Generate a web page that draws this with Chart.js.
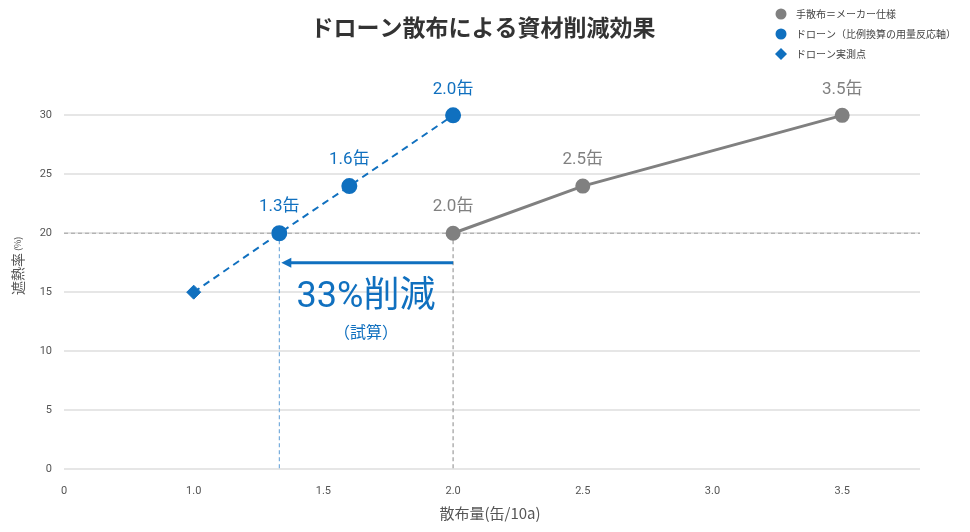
<!DOCTYPE html>
<html>
<head>
<meta charset="utf-8">
<script src="https://cdn.jsdelivr.net/npm/chart.js@4"></script>
<style>
  html, body { margin: 0; padding: 0; background: #fff; }
  #wrap { width: 970px; height: 532px; position: relative; }
</style>
</head>
<body>
<div id="wrap"><canvas id="chart" width="970" height="532"></canvas></div>
<script>
// data
const manualRate = [2.0, 2.5, 3.5];
const manualShade = [20, 24, 30];
const manualLabels = ["2.0缶", "2.5缶", "3.5缶"];

const droneRate = [1.0, 1.33, 1.6, 2.0];
const droneShade = [15, 20, 24, 30];
const droneLabels = ["", "1.3缶", "1.6缶", "2.0缶"];

const measuredRate = [1.0];
const measuredShade = [15];

const xTicks = [0.5, 1.0, 1.5, 2.0, 2.5, 3.0, 3.5];
const yTicks = [0, 5, 10, 15, 20, 25, 30];

const BLUE = "#1070bf";
const GRAY = "#808080";
const FONT = "Roboto, 'Noto Sans CJK JP', sans-serif";
const JP = "'Noto Sans CJK JP', sans-serif";

// draws labels, reference lines, arrow, title and legend
const overlay = {
  id: "overlay",
  beforeDatasetsDraw(chart) {
    const { ctx, chartArea, scales: { x, y } } = chart;
    ctx.save();
    ctx.lineWidth = 1;
    ctx.setLineDash([4, 3]);
    // horizontal 20% line
    ctx.strokeStyle = "#a0a0a0";
    ctx.beginPath();
    ctx.moveTo(chartArea.left, y.getPixelForValue(20));
    ctx.lineTo(chartArea.right, y.getPixelForValue(20));
    ctx.stroke();
    // vertical at 2.0
    ctx.strokeStyle = "#888";
    ctx.beginPath();
    ctx.moveTo(x.getPixelForValue(2.0), y.getPixelForValue(20));
    ctx.lineTo(x.getPixelForValue(2.0), y.getPixelForValue(0));
    ctx.stroke();
    // vertical at 1.33
    ctx.strokeStyle = "#5a9bd5";
    ctx.beginPath();
    ctx.moveTo(x.getPixelForValue(1.33), y.getPixelForValue(20));
    ctx.lineTo(x.getPixelForValue(1.33), y.getPixelForValue(0));
    ctx.stroke();
    ctx.restore();
  },
  afterDraw(chart) {
    const { ctx, scales: { x, y } } = chart;
    ctx.save();
    ctx.textAlign = "center";
    ctx.textBaseline = "middle";
    ctx.font = "17px " + FONT;
    ctx.fillStyle = GRAY;
    manualRate.forEach((r, i) => {
      ctx.fillText(manualLabels[i], x.getPixelForValue(r), y.getPixelForValue(manualShade[i]) - 26);
    });
    ctx.fillStyle = BLUE;
    droneRate.forEach((r, i) => {
      if (droneLabels[i]) ctx.fillText(droneLabels[i], x.getPixelForValue(r), y.getPixelForValue(droneShade[i]) - 26);
    });

    // arrow
    const ay = y.getPixelForValue(17.5);
    const x1 = x.getPixelForValue(2.0), x0 = x.getPixelForValue(1.33) + 2;
    ctx.strokeStyle = BLUE;
    ctx.lineWidth = 3;
    ctx.beginPath();
    ctx.moveTo(x1, ay);
    ctx.lineTo(x0 + 8, ay);
    ctx.stroke();
    ctx.fillStyle = BLUE;
    ctx.beginPath();
    ctx.moveTo(x0, ay);
    ctx.lineTo(x0 + 10, ay - 5);
    ctx.lineTo(x0 + 10, ay + 5);
    ctx.closePath();
    ctx.fill();

    ctx.font = "36px " + FONT;
    ctx.fillText("33%削減", 366, 298);
    ctx.font = "16px " + JP;
    ctx.fillText("（試算）", 366, 332);

    // title
    ctx.fillStyle = "#333";
    ctx.font = "bold 23px " + JP;
    ctx.fillText("ドローン散布による資材削減効果", 483, 27);

    // axis titles
    ctx.fillStyle = "#555";
    ctx.font = "15px " + JP;
    ctx.fillText("散布量(缶/10a)", 490, 513);
    ctx.save();
    ctx.translate(18, 253);
    ctx.rotate(-Math.PI / 2);
    ctx.textAlign = "right";
    ctx.font = "14px " + JP;
    ctx.fillText("遮熱率", 0, 0);
    ctx.textAlign = "left";
    ctx.font = "9px " + JP;
    ctx.fillText("(%)", 2, 0);
    ctx.restore();

    // legend
    ctx.textAlign = "left";
    ctx.font = "10px " + JP;
    ctx.fillStyle = GRAY;
    ctx.beginPath(); ctx.arc(781, 14, 5.5, 0, Math.PI * 2); ctx.fill();
    ctx.fillStyle = BLUE;
    ctx.beginPath(); ctx.arc(781, 34, 5.5, 0, Math.PI * 2); ctx.fill();
    ctx.beginPath();
    ctx.moveTo(781, 48); ctx.lineTo(787, 54); ctx.lineTo(781, 60); ctx.lineTo(775, 54);
    ctx.closePath(); ctx.fill();
    ctx.fillStyle = "#444";
    ctx.fillText("手散布＝メーカー仕様", 796, 14);
    ctx.fillText("ドローン（比例換算の用量反応軸）", 796, 34);
    ctx.fillText("ドローン実測点", 796, 54);
    ctx.restore();
  }
};

new Chart(document.getElementById("chart"), {
  type: "scatter",
  data: {
    datasets: [
      {
        label: "手散布=メーカー仕様",
        data: manualRate.map((r, i) => ({ x: r, y: manualShade[i] })),
        showLine: true,
        borderColor: GRAY,
        backgroundColor: GRAY,
        borderWidth: 3,
        pointRadius: 6,
        pointHoverRadius: 6,
        clip: false
      },
      {
        label: "ドローン(比例換算の用量反応軸)",
        data: droneRate.map((r, i) => ({ x: r, y: droneShade[i] })),
        showLine: true,
        borderColor: BLUE,
        backgroundColor: BLUE,
        borderWidth: 2,
        borderDash: [7, 5],
        pointRadius: droneRate.map((r, i) => (i === 0 ? 0 : 7)),
        pointHoverRadius: 7,
        clip: false
      },
      {
        label: "ドローン実測点",
        data: measuredRate.map((r, i) => ({ x: r, y: measuredShade[i] })),
        pointStyle: "rectRot",
        borderColor: BLUE,
        backgroundColor: BLUE,
        pointRadius: 7,
        clip: false
      }
    ]
  },
  options: {
    responsive: false,
    animation: false,
    layout: { padding: { top: 80, right: 50, left: 0, bottom: 0 } },
    plugins: { legend: { display: false }, tooltip: { enabled: false } },
    scales: {
      x: {
        type: "linear",
        min: 0.5,
        max: 3.8,
        afterBuildTicks: (s) => { s.ticks = xTicks.map((v) => ({ value: v })); },
        afterFit: (s) => { s.height = 63; },
        grid: { display: false },
        border: { display: false },
        ticks: {
          color: "#555",
          font: { family: FONT, size: 11 },
          padding: 8,
          callback: (v) => (v === 0.5 ? "0" : v.toFixed(1))
        }
      },
      y: {
        min: 0,
        max: 33,
        afterBuildTicks: (s) => { s.ticks = yTicks.map((v) => ({ value: v })); },
        afterFit: (s) => { s.width = 64; },
        grid: { color: "#e6e6e6", lineWidth: 2, drawTicks: false },
        border: { display: false },
        ticks: { color: "#555", font: { family: FONT, size: 11 }, padding: 12 }
      }
    }
  },
  plugins: [overlay]
});
</script>
</body>
</html>
